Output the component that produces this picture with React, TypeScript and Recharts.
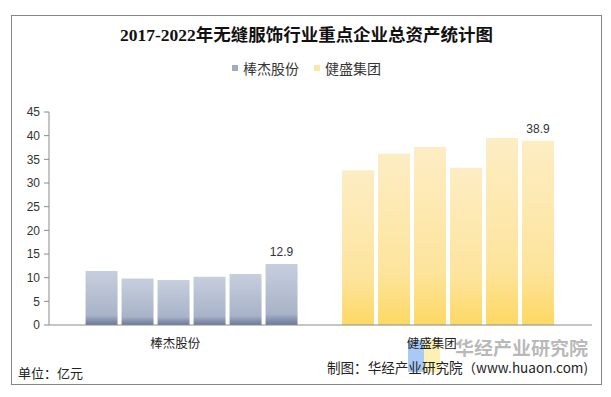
import React from 'react';
import { BarChart, Bar, XAxis, YAxis, Cell, LabelList, Legend } from 'recharts';

const companies = ['棒杰股份', '健盛集团'];
const years = ['2017', '2018', '2019', '2020', '2021', '2022'];
const bangjie = [11.4, 9.8, 9.5, 10.2, 10.8, 12.9];
const jiansheng = [32.7, 36.2, 37.6, 33.2, 39.5, 38.9];
const yTicks = [0, 5, 10, 15, 20, 25, 30, 35, 40, 45];

const seriesByCompany = [bangjie, jiansheng];
const data = companies.map((name, ci) => {
  const row: any = { name };
  years.forEach((y, yi) => {
    row[y] = seriesByCompany[ci][yi];
  });
  return row;
});

const fills = ['url(#gBJ)', 'url(#gJS)'];
const legendColors = ['#a3abc2', '#fde7a4'];

const CatTick = (props: any) => {
  const { x, y, payload } = props;
  return (
    <text
      x={x - 17}
      y={y + 23}
      textAnchor="middle"
      fontSize={12.5}
      fill="#222"
      fontFamily="'Noto Sans CJK SC', sans-serif"
    >
      {payload.value}
    </text>
  );
};

const LegendContent = () => (
  <div style={{ position: 'relative', width: 611, height: 20 }}>
    {companies.map((c, i) => (
      <div
        key={c}
        style={{
          position: 'absolute',
          left: i === 0 ? 232 : 314,
          top: 0,
          display: 'flex',
          alignItems: 'center',
          height: 20,
        }}
      >
        <span
          style={{
            display: 'inline-block',
            width: 6,
            height: 6,
            background: legendColors[i],
            marginRight: 5,
          }}
        />
        <span
          style={{
            fontSize: 14,
            color: '#333',
            fontFamily: "'Noto Sans CJK SC', sans-serif",
            lineHeight: '20px',
          }}
        >
          {c}
        </span>
      </div>
    ))}
  </div>
);

export default function App() {
  return (
    <div style={{ position: 'absolute', left: 0, top: 0, width: 611, height: 397, background: '#fff' }}>
      <svg width={0} height={0} style={{ position: 'absolute' }}>
        <defs>
          <linearGradient id="gBJ" x1="0" y1="0" x2="0" y2="1">
            <stop offset="0%" stopColor="#c7cfde" />
            <stop offset="82%" stopColor="#a9b3c8" />
            <stop offset="92%" stopColor="#8391af" />
            <stop offset="100%" stopColor="#6a7a9c" />
          </linearGradient>
          <linearGradient id="gJS" x1="0" y1="0" x2="0" y2="1">
            <stop offset="0%" stopColor="#fdedc4" />
            <stop offset="70%" stopColor="#fde49c" />
            <stop offset="100%" stopColor="#fdd863" />
          </linearGradient>
        </defs>
      </svg>
      <div
        style={{
          position: 'absolute',
          left: 11,
          top: 15,
          width: 591,
          height: 370,
          boxSizing: 'border-box',
          border: '1px solid #868686',
        }}
      />
      <svg width={611} height={397} style={{ position: 'absolute', left: 0, top: 0 }}>
        <rect x={408} y={340} width={16} height={32} fill="#a9c9f7" />
        <rect x={424} y={340} width={16} height={32} fill="#fdf0b3" />
        <text
          x={455}
          y={355}
          fontSize={18.5}
          fontWeight="bold"
          fill="#9a9a9a"
          fillOpacity={0.7}
          textLength={133}
          lengthAdjust="spacingAndGlyphs"
          fontFamily="'Noto Sans CJK SC', sans-serif"
        >
          华经产业研究院
        </text>
      </svg>
      <div style={{ position: 'absolute', left: 0, top: 0 }}>
        <BarChart
          width={611}
          height={397}
          data={data}
          margin={{ top: 92, right: 19, left: 9, bottom: 42 }}
          barGap={4}
          barCategoryGap="8.4%"
        >
          <XAxis
            dataKey="name"
            height={30}
            padding={{ left: 15, right: 15 }}
            axisLine={{ stroke: '#8a8a8a' }}
            tickLine={false}
            tickSize={0}
            tickMargin={0}
            tick={<CatTick />}
            interval={0}
          />
          <YAxis
            width={40}
            domain={[0, 45]}
            ticks={yTicks}
            interval={0}
            axisLine={{ stroke: '#8a8a8a' }}
            tickLine={{ stroke: '#8a8a8a' }}
            tickSize={5}
            tickMargin={4}
            tick={{ fontSize: 12, fill: '#333', fontFamily: "'Liberation Sans', Arial, sans-serif" }}
          />
          <Legend
            verticalAlign="top"
            content={<LegendContent />}
            wrapperStyle={{ position: 'absolute', top: 58, left: 0, width: 611 }}
          />
          {years.map((y, yi) => (
            <Bar key={y} dataKey={y} isAnimationActive={false}>
              {data.map((_, ci) => (
                <Cell key={ci} fill={fills[ci]} />
              ))}
              {yi === years.length - 1 && (
                <LabelList
                  dataKey={y}
                  position="top"
                  offset={8}
                  fontSize={12}
                  fill="#333"
                  fontFamily="'Liberation Sans', Arial, sans-serif"
                />
              )}
            </Bar>
          ))}
        </BarChart>
      </div>
      <svg width={611} height={397} style={{ position: 'absolute', left: 0, top: 0, pointerEvents: 'none' }}>
        <text
          x={120}
          y={41}
          fontSize={17}
          fontWeight="bold"
          fill="#111"
          textLength={373}
          lengthAdjust="spacingAndGlyphs"
          fontFamily="'Liberation Serif', 'Noto Sans CJK SC', serif"
        >
          2017-2022年无缝服饰行业重点企业总资产统计图
        </text>
        <text x={18} y={378} fontSize={13} fill="#222" fontFamily="'Noto Sans CJK SC', sans-serif">
          单位：亿元
        </text>
        <text
          x={327}
          y={373}
          fontSize={13.5}
          fill="#222"
          textLength={261}
          lengthAdjust="spacingAndGlyphs"
          fontFamily="'Noto Sans CJK SC', 'Liberation Sans', sans-serif"
        >
          制图：华经产业研究院（www.huaon.com)
        </text>
      </svg>
    </div>
  );
}
